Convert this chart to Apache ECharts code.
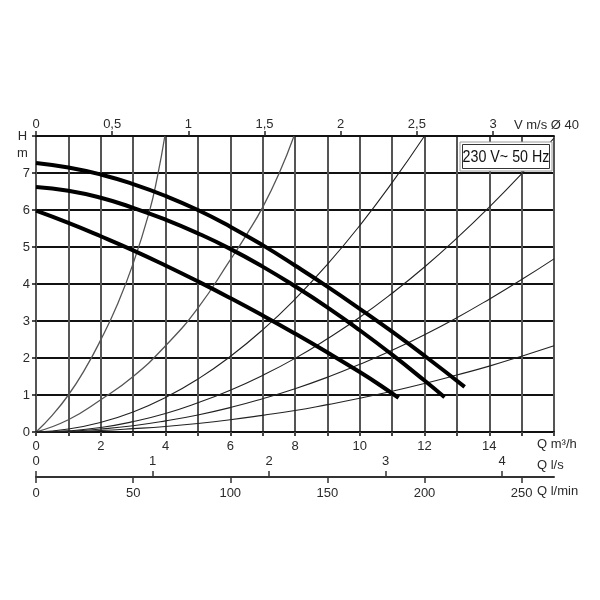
<!DOCTYPE html>
<html>
<head>
<meta charset="utf-8">
<script src="https://cdn.jsdelivr.net/npm/echarts@6/dist/echarts.min.js"></script>
<style>html,body{margin:0;padding:0;background:#fff;}#c{width:600px;height:600px;}</style>
</head>
<body>
<div id="c"></div>
<script>
// ---- data ----
// Pump curves, Q in m3/h, H in m
const pump1Q = [0, 1, 2, 3, 4, 5, 6, 7, 8, 9, 10, 11, 12, 13.24];
const pump1H = [7.27, 7.15, 6.96, 6.70, 6.38, 6.00, 5.55, 5.05, 4.50, 3.93, 3.33, 2.71, 2.06, 1.22];
const pump2Q = [0, 1, 2, 3, 4, 5, 6, 7, 8, 9, 10, 11, 12, 12.62];
const pump2H = [6.62, 6.52, 6.33, 6.06, 5.74, 5.37, 4.95, 4.47, 3.94, 3.37, 2.75, 2.09, 1.39, 0.94];
const pump3Q = [0, 1, 2, 3, 4, 5, 6, 7, 8, 9, 10, 10.62, 11.2];
const pump3H = [5.98, 5.65, 5.29, 4.91, 4.50, 4.07, 3.62, 3.15, 2.66, 2.15, 1.62, 1.27, 0.92];

// System curves
const sys1Q = [0, 0.5, 1, 1.5, 2, 2.5, 3, 3.5, 3.75, 3.98];
const sys1H = [0, 0.45, 1.0, 1.68, 2.49, 3.42, 4.55, 5.95, 6.9, 8.0];
const sys2Q = [0, 1, 2, 3, 4, 5, 6, 6.5, 7, 7.5, 7.97];
const sys2H = [0, 0.33, 0.87, 1.5, 2.33, 3.35, 4.65, 5.33, 6.07, 6.97, 8.0];
const sys3Q = [0, 1, 2, 3, 4, 5, 6, 7, 8, 9, 10, 11, 12];
const sys3H = [0, 0.08, 0.26, 0.54, 0.93, 1.43, 2.04, 2.76, 3.59, 4.53, 5.58, 6.74, 8.0];
const sysQ = [0, 1, 2, 3, 4, 5, 6, 7, 8, 9, 10, 11, 12, 13, 14, 15, 16];
const sys4H = [0, 0.03, 0.12, 0.28, 0.5, 0.79, 1.13, 1.53, 1.99, 2.52, 3.1, 3.75, 4.46, 5.24, 6.08, 6.98, 7.94];
const sys5H = [0, 0.02, 0.08, 0.17, 0.3, 0.46, 0.66, 0.9, 1.17, 1.48, 1.83, 2.21, 2.63, 3.09, 3.59, 4.12, 4.68];
const sys6H = [0, 0.01, 0.04, 0.09, 0.15, 0.23, 0.33, 0.45, 0.58, 0.74, 0.91, 1.1, 1.31, 1.54, 1.78, 2.05, 2.33];

// Axis ticks / labels
const qTicks = [0, 2, 4, 6, 8, 10, 12, 14];
const vTicks = [0, 0.5, 1, 1.5, 2, 2.5, 3];
const lsTicks = [0, 1, 2, 3, 4];
const lminTicks = [0, 50, 100, 150, 200, 250];
const qMax = 16;          // m3/h
const hMax = 8;           // m
const vMax = 3.4;         // m/s at Q = 16 m3/h (pipe Ø 40)
const lsMax = qMax / 3.6; // l/s
const lminMax = qMax / 0.06; // l/min
const boxText = '230 V~ 50 Hz';

const pairs = (q, h) => q.map((v, i) => [v, h[i]]);

const FONT = 'Liberation Sans';
const TXT = '#2a2a2a';

const chart = echarts.init(document.getElementById('c'), null, {renderer: 'canvas'});

function thin(data, color, w) {
  return {type: 'line', data, smooth: 0.5, showSymbol: false, silent: true,
    lineStyle: {color, width: w}, z: 3};
}
function thick(data) {
  return {type: 'line', data, smooth: 0.5, showSymbol: false, silent: true,
    lineStyle: {color: '#000', width: 4, cap: 'butt'}, z: 5};
}

const option = {
  animation: false,
  backgroundColor: '#fff',
  grid: {left: 36, right: 46, top: 136, bottom: 168},
  xAxis: [
    { // Q m3/h
      type: 'value', min: 0, max: qMax, interval: 1, position: 'bottom',
      axisLine: {show: true, onZero: false, lineStyle: {color: '#111', width: 1.8}},
      axisTick: {show: true, length: 4, lineStyle: {color: '#444', width: 2}},
      axisLabel: {margin: 8, fontFamily: FONT, fontSize: 13, color: TXT,
        customValues: qTicks,
        formatter: v => (qTicks.indexOf(v) >= 0 ? String(v) : '')},
      splitLine: {show: true, lineStyle: {color: '#555', width: 2}}
    },
    { // V m/s
      type: 'value', min: 0, max: vMax, interval: 0.5, position: 'top',
      axisLine: {show: true, onZero: false, lineStyle: {color: '#111', width: 1.8}},
      axisTick: {show: true, length: 5, customValues: vTicks, lineStyle: {color: '#222', width: 1.5}},
      axisLabel: {margin: 5, fontFamily: FONT, fontSize: 13, color: TXT, customValues: vTicks,
        formatter: v => (vTicks.indexOf(v) >= 0 ? String(v).replace('.', ',') : '')},
      splitLine: {show: false}
    },
    { // Q l/s
      type: 'value', min: 0, max: lsMax, interval: 1, position: 'bottom', offset: 45,
      axisLine: {show: true, onZero: false, lineStyle: {color: '#333', width: 2}},
      axisTick: {show: true, inside: true, length: 6, customValues: lsTicks, lineStyle: {color: '#333', width: 1.5}},
      axisLabel: {inside: true, margin: 9, fontFamily: FONT, fontSize: 13, color: TXT, customValues: lsTicks,
        formatter: v => (lsTicks.indexOf(v) >= 0 ? String(v) : '')},
      splitLine: {show: false}
    },
    { // Q l/min
      type: 'value', min: 0, max: lminMax, interval: 50, position: 'bottom', offset: 45,
      axisLine: {show: false, onZero: false},
      axisTick: {show: true, length: 6, customValues: lminTicks, lineStyle: {color: '#333', width: 1.5}},
      axisLabel: {margin: 10, fontFamily: FONT, fontSize: 13, color: TXT, customValues: lminTicks,
        formatter: v => (lminTicks.indexOf(v) >= 0 ? String(v) : '')},
      splitLine: {show: false}
    }
  ],
  yAxis: [{
    type: 'value', min: 0, max: hMax, interval: 1,
    axisLine: {show: false},
    axisTick: {show: true, length: 4, lineStyle: {color: '#111', width: 1.5}},
    axisLabel: {margin: 6, fontFamily: FONT, fontSize: 13, color: TXT,
      formatter: v => (v < hMax ? String(v) : '')},
    splitLine: {show: true, lineStyle: {color: '#111', width: 1.8}}
  }],
  series: [
    thin(pairs(sys1Q, sys1H), '#555', 1.3),
    thin(pairs(sys2Q, sys2H), '#555', 1.3),
    thin(pairs(sys3Q, sys3H), '#222', 1.1),
    thin(pairs(sysQ, sys4H), '#222', 1.1),
    thin(pairs(sysQ, sys5H), '#222', 1.1),
    thin(pairs(sysQ, sys6H), '#222', 1.1),
    thick(pairs(pump1Q, pump1H)),
    thick(pairs(pump2Q, pump2H)),
    thick(pairs(pump3Q, pump3H))
  ],
  graphic: [
    {type: 'rect', z: 100, shape: {x: 460, y: 142, width: 92, height: 29},
      style: {fill: '#fff', stroke: '#9a9a9a', lineWidth: 1}},
    {type: 'rect', z: 101, shape: {x: 462.5, y: 144.5, width: 87, height: 24},
      style: {fill: '#fff', stroke: '#333', lineWidth: 1}},
    {type: 'text', z: 102, x: 506, y: 157, scaleX: 0.84,
      style: {text: boxText, x: 0, y: 0, fill: '#111', font: '17px "Liberation Sans"',
        textAlign: 'center', textVerticalAlign: 'middle', align: 'center', verticalAlign: 'middle'}},
    {type: 'text', z: 102, x: 22.5, y: 136,
      style: {text: 'H', fill: TXT, font: '13px "Liberation Sans"',
        textAlign: 'center', textVerticalAlign: 'middle', align: 'center', verticalAlign: 'middle'}},
    {type: 'text', z: 102, x: 22.5, y: 153,
      style: {text: 'm', fill: TXT, font: '13px "Liberation Sans"',
        textAlign: 'center', textVerticalAlign: 'middle', align: 'center', verticalAlign: 'middle'}},
    {type: 'text', z: 102, x: 514, y: 125,
      style: {text: 'V m/s Ø 40', fill: TXT, font: '13px "Liberation Sans"',
        textAlign: 'left', textVerticalAlign: 'middle', align: 'left', verticalAlign: 'middle'}},
    {type: 'text', z: 102, x: 537, y: 444,
      style: {text: 'Q m³/h', fill: TXT, font: '13px "Liberation Sans"',
        textAlign: 'left', textVerticalAlign: 'middle', align: 'left', verticalAlign: 'middle'}},
    {type: 'text', z: 102, x: 537, y: 465,
      style: {text: 'Q l/s', fill: TXT, font: '13px "Liberation Sans"',
        textAlign: 'left', textVerticalAlign: 'middle', align: 'left', verticalAlign: 'middle'}},
    {type: 'text', z: 102, x: 537, y: 491,
      style: {text: 'Q l/min', fill: TXT, font: '13px "Liberation Sans"',
        textAlign: 'left', textVerticalAlign: 'middle', align: 'left', verticalAlign: 'middle'}}
  ]
};
chart.setOption(option);
</script>
</body>
</html>
